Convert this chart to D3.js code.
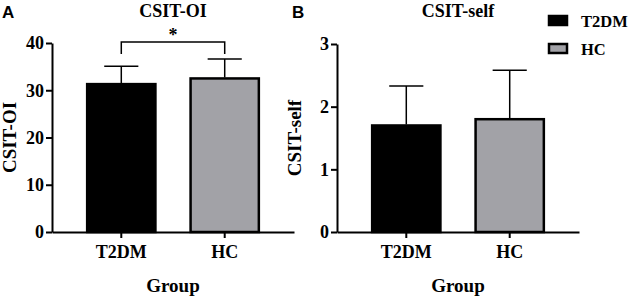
<!DOCTYPE html>
<html>
<head>
<meta charset="utf-8">
<script src="https://cdn.jsdelivr.net/npm/d3@7"></script>
<style>
  body { margin: 0; background: #fff; }
  text { font-family: "Liberation Serif", "Times New Roman", serif; font-weight: bold; fill: #000; }
</style>
</head>
<body>
<svg id="chart" width="630" height="296"></svg>
<script>
// data
const groups = ["T2DM", "HC"];
const oiMean = [31.3, 32.5];
const oiSD = [3.8, 4.1];
const selfMean = [1.70, 1.80];
const selfSD = [0.63, 0.78];
const oiTicks = [0, 10, 20, 30, 40];
const selfTicks = [0, 1, 2, 3];
const sigPairs = [{ from: "T2DM", to: "HC", y: 40.2, label: "*" }];
const barColors = ["#000000", "#a2a2a7"];

const svg = d3.select("#chart");
const baseY = 232;

function drawPanel(opt) {
    let g = svg.append("g");

    let x = d3.scaleBand()
              .domain(groups)
              .range([opt.left, opt.left + 242])
              .paddingInner(0.34)
              .paddingOuter(0.34);
    let y = d3.scaleLinear()
              .domain(opt.domain)
              .range([baseY, opt.top]);

    // bars
    g.selectAll("rect.bar")
     .data(groups)
     .join("rect")
     .attr("class", "bar")
     .attr("x", d => x(d))
     .attr("y", (d, i) => y(opt.mean[i]))
     .attr("width", x.bandwidth())
     .attr("height", (d, i) => baseY - y(opt.mean[i]))
     .style("fill", (d, i) => barColors[i])
     .style("stroke", "#000")
     .style("stroke-width", 2.5);

    // upper error bars
    groups.forEach((d, i) => {
        let cx = x(d) + x.bandwidth() / 2;
        let top = y(opt.mean[i] + opt.sd[i]);
        g.append("line")
         .attr("x1", cx).attr("x2", cx)
         .attr("y1", y(opt.mean[i]) - 1).attr("y2", top)
         .style("stroke", "#000").style("stroke-width", 1.5);
        g.append("line")
         .attr("x1", cx - x.bandwidth() / 4).attr("x2", cx + x.bandwidth() / 4)
         .attr("y1", top).attr("y2", top)
         .style("stroke", "#000").style("stroke-width", 1.5);
    });

    // axes
    let yAxis = g.append("g")
                 .attr("transform", `translate(${opt.left},0)`)
                 .call(d3.axisLeft(y).tickValues(opt.ticks).tickFormat(d3.format("d"))
                         .tickSize(6).tickSizeOuter(0).tickPadding(2));
    let xAxis = g.append("g")
                 .attr("transform", `translate(0,${baseY})`)
                 .call(d3.axisBottom(x).tickSize(6).tickSizeOuter(0).tickPadding(7));

    [yAxis, xAxis].forEach(a => {
        a.attr("font-family", null).attr("font-size", null);
        a.select(".domain").style("stroke-width", 2);
        a.selectAll(".tick line").style("stroke-width", 2);
        a.selectAll("text")
         .style("font-family", "'Liberation Serif', serif")
         .style("font-weight", "bold")
         .style("font-size", "18px")
         .attr("fill", "#000");
    });

    // titles
    let cx = opt.left + 121;
    g.append("text")
     .attr("x", cx).attr("y", 17)
     .attr("text-anchor", "middle")
     .style("font-size", "18px")
     .text(opt.title);
    g.append("text")
     .attr("x", cx).attr("y", 292)
     .attr("text-anchor", "middle")
     .style("font-size", "19px")
     .text("Group");
    g.append("text")
     .attr("transform", `translate(${opt.left - 36},${(baseY + opt.top) / 2}) rotate(-90)`)
     .attr("text-anchor", "middle")
     .style("font-size", "19px")
     .text(opt.title);
    g.append("text")
     .attr("x", opt.letterX).attr("y", 18)
     .style("font-family", "'Liberation Sans', Arial, sans-serif")
     .style("font-size", "17px")
     .text(opt.letter);

    // significance brackets
    (opt.sig || []).forEach(s => {
        let x1 = x(s.from) + x.bandwidth() / 2;
        let x2 = x(s.to) + x.bandwidth() / 2;
        let yy = y(s.y);
        g.append("path")
         .attr("d", `M${x1},${yy + 12}V${yy}H${x2}V${yy + 12}`)
         .style("fill", "none").style("stroke", "#000").style("stroke-width", 1.5);
        g.append("text")
         .attr("x", (x1 + x2) / 2).attr("y", yy - 1)
         .attr("text-anchor", "middle")
         .style("font-size", "18px")
         .text(s.label);
    });
}

drawPanel({ left: 52, top: 43, domain: [0, 40], ticks: oiTicks, mean: oiMean, sd: oiSD,
            title: "CSIT-OI", letter: "A", letterX: 2, sig: sigPairs });
drawPanel({ left: 337, top: 44, domain: [0, 3], ticks: selfTicks, mean: selfMean, sd: selfSD,
            title: "CSIT-self", letter: "B", letterX: 292 });

// legend
const legend = svg.append("g").attr("transform", "translate(548,15)");
groups.forEach((d, i) => {
    legend.append("rect")
          .attr("x", 1).attr("y", i * 28 + 1)
          .attr("width", 18).attr("height", 9)
          .style("fill", barColors[i])
          .style("stroke", "#000").style("stroke-width", 2.5);
    legend.append("text")
          .attr("x", 33).attr("y", i * 28 + 12)
          .style("font-size", "16.5px")
          .text(d);
});
</script>
</body>
</html>
